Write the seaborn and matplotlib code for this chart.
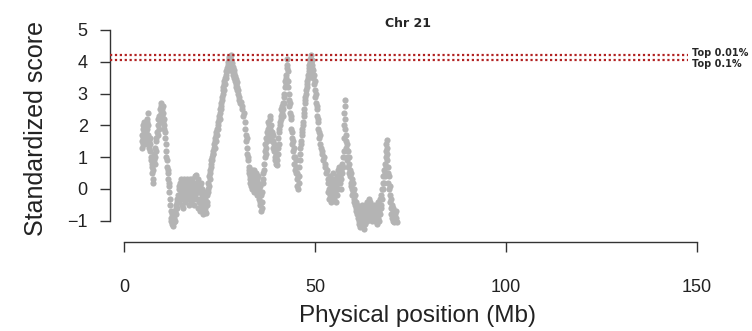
import pandas as pd
import matplotlib
matplotlib.use("Agg")
import matplotlib.pyplot as plt
import seaborn as sns

# ---------------------------------------------------------------------------
# data (Chr 21, standardized score vs position in Mb)
# ---------------------------------------------------------------------------
pos_mb = [
    4.6, 4.7, 4.8, 4.9, 5.0, 5.0, 5.1, 5.2, 5.2, 5.3, 5.4, 5.5, 5.5, 5.6, 5.7, 5.8, 5.9, 6.0, 6.1, 6.2, 6.3, 6.4, 6.5, 6.6, 6.7, 6.8, 6.9, 7.0,
    7.1, 7.2, 7.3, 7.4, 7.5, 7.6, 7.7, 7.8, 7.9, 8.0, 8.1, 8.2, 8.3, 8.4, 8.5,
    8.7, 8.8, 8.9, 9.0, 9.1, 9.2, 9.3, 9.4, 9.5, 9.6, 9.7, 9.8, 9.9, 10.0, 10.1, 10.2, 10.3, 10.4, 10.5, 10.6, 10.7, 10.8, 10.9, 11.0,
    11.1, 11.2, 11.3, 11.4, 11.5, 11.6, 11.7, 11.8, 11.9, 12.0, 12.1,
    12.2, 12.3, 12.4, 12.5, 12.6, 12.7, 12.8, 12.9, 13.0, 13.1, 13.2, 13.3, 13.4, 13.5, 13.6, 13.7, 13.8, 13.9, 14.0,
    14.2, 14.3, 14.4, 14.5, 14.6, 14.7, 14.8, 14.9, 15.0, 15.1, 15.2, 15.3, 15.4, 15.5, 15.6, 15.7, 15.8, 15.9, 16.0, 16.1,
    16.2, 16.3, 16.4, 16.5, 16.6, 16.7, 16.8, 16.9, 17.0, 17.1, 17.2, 17.3, 17.4, 17.5, 17.6, 17.7, 17.8, 17.9, 18.0, 18.1,
    18.2, 18.3, 18.4, 18.5, 18.6, 18.7, 18.8, 18.9, 19.0, 19.1, 19.2, 19.3, 19.4, 19.5, 19.6, 19.7, 19.8, 19.9, 20.0, 20.1,
    20.2, 20.3, 20.4, 20.5, 20.6, 20.7, 20.8, 20.9, 21.0, 21.1, 21.2, 21.3, 21.4, 21.5,
    21.6, 21.7, 21.8, 21.9, 22.0, 22.1, 22.2, 22.3, 22.4, 22.5, 22.6, 22.7, 22.8, 22.9, 23.0, 23.1, 23.2, 23.3, 23.4, 23.5, 23.6, 23.7, 23.8,
    23.9, 24.0, 24.1, 24.2, 24.3, 24.4, 24.5, 24.6, 24.7, 24.8, 24.9, 25.0, 25.1, 25.2, 25.3, 25.4, 25.5, 25.6, 25.7, 25.8, 25.9, 26.0, 26.1, 26.2, 26.3, 26.4,
    26.5, 26.6, 26.7, 26.8, 26.9, 27.0, 27.1, 27.2, 27.3, 27.4, 27.5, 27.6, 27.7, 27.8, 27.9, 28.0, 28.1, 28.2, 28.3, 28.4, 28.5, 28.6, 28.7, 28.8, 28.9,
    29.0, 29.1, 29.2, 29.3, 29.4, 29.5, 29.6, 29.7, 29.8, 29.9, 30.0, 30.2, 30.4, 30.6, 30.8, 31.0, 31.2, 31.4,
    31.6, 31.8, 31.9, 32.0, 32.1, 32.2, 32.3, 32.4, 32.5, 32.6, 32.7, 32.8, 32.9, 33.0, 33.1,
    33.2, 33.3, 33.4, 33.5, 33.6, 33.7, 33.8, 33.9, 34.0, 34.1, 34.2, 34.3, 34.4, 34.5, 34.6, 34.7, 34.8, 34.9, 35.0, 35.1,
    35.2, 35.3, 35.4, 35.5, 35.6, 35.7, 35.8, 35.9, 36.0, 36.1, 36.2, 36.3, 36.4, 36.5, 36.6, 36.7, 36.8, 36.9,
    37.0, 37.1, 37.2, 37.3, 37.4, 37.5, 37.6, 37.7, 37.8, 37.9, 38.0, 38.1, 38.2, 38.3, 38.4, 38.5, 38.6, 38.7, 38.8,
    38.9, 39.0, 39.1, 39.2, 39.3, 39.4, 39.5, 39.6, 39.7, 39.8, 39.9, 40.0, 40.1, 40.2,
    40.3, 40.4, 40.5, 40.6, 40.7, 40.8, 40.9, 41.0, 41.1, 41.2, 41.3, 41.4, 41.5, 41.6, 41.7, 41.8, 41.9,
    42.0, 42.1, 42.2, 42.3, 42.4, 42.5, 42.6, 42.7, 42.75, 42.8, 42.9, 43.0, 43.1,
    43.2, 43.3, 43.4, 43.5, 43.6, 43.7, 43.8, 43.9, 44.0, 44.1, 44.2, 44.3, 44.4, 44.5, 44.6, 44.7, 44.8, 44.9, 45.0, 45.1, 45.2, 45.3, 45.4, 45.5, 45.6, 45.7,
    45.8, 45.9, 46.0, 46.1, 46.2, 46.3, 46.4, 46.5, 46.6, 46.7, 46.8, 46.9, 47.0, 47.1, 47.2, 47.3, 47.4, 47.5, 47.6, 47.7, 47.8, 47.9, 48.0, 48.1, 48.2,
    48.3, 48.4, 48.5, 48.6, 48.7, 48.8, 48.9, 49.0, 49.1, 49.2, 49.3, 49.4, 49.5, 49.6, 49.7, 49.8, 49.9, 50.0,
    50.1, 50.2, 50.3, 50.4, 50.5, 50.6, 50.7, 50.8, 50.9, 51.0, 51.1, 51.2, 51.3, 51.5, 51.7, 51.9, 52.1, 52.3, 52.5, 52.7, 52.9, 53.1,
    53.3, 53.4, 53.5, 53.6, 53.7, 53.8, 53.9, 54.0, 54.1, 54.2, 54.3, 54.4, 54.5, 54.6, 54.7, 54.8, 54.9, 55.0, 55.1, 55.2,
    55.3, 55.4, 55.5, 55.6, 55.7, 55.8, 55.9, 56.0, 56.1, 56.2, 56.3, 56.4, 56.5, 56.6, 56.7, 56.8, 56.9, 57.0, 57.1, 57.2, 57.3,
    57.5, 57.6, 57.65, 57.7, 57.75, 57.8, 57.85, 57.9, 58.0, 58.1, 58.2,
    58.3, 58.4, 58.5, 58.6, 58.7, 58.8, 58.9, 59.0, 59.1, 59.2, 59.3, 59.4, 59.5, 59.6,
    59.7, 59.8, 59.9, 60.0, 60.1, 60.2, 60.3, 60.4, 60.5, 60.6, 60.7, 60.8, 60.9, 61.0, 61.1, 61.2,
    61.3, 61.4, 61.5, 61.6, 61.7, 61.8, 61.9, 62.0, 62.1, 62.2, 62.3, 62.4, 62.5, 62.6, 62.7, 62.8, 62.9, 63.0, 63.1, 63.2,
    63.3, 63.4, 63.5, 63.6, 63.7, 63.8, 63.9, 64.0, 64.1, 64.2, 64.3, 64.4, 64.5, 64.6, 64.7, 64.8, 64.9, 65.0, 65.1, 65.2,
    65.3, 65.4, 65.5,
    65.6, 65.7, 65.8, 65.9, 66.0, 66.1, 66.2, 66.3, 66.4, 66.5, 66.6, 66.7, 66.8, 66.9, 67.0, 67.1, 67.2, 67.3, 67.4, 67.5,
    67.6, 67.7, 67.8, 67.9, 68.0, 68.1, 68.2, 68.3, 68.4, 68.5,
    68.6, 68.65, 68.7, 68.75, 68.8, 68.85, 68.9, 69.0,
    69.1, 69.2, 69.3, 69.4, 69.5, 69.6, 69.7, 69.8, 69.9, 70.0, 70.1, 70.2, 70.3, 70.4, 70.5, 70.6, 70.7, 70.8, 70.9, 71.0,
    71.1, 71.2, 71.3, 71.4,
]
score = [
    1.5, 1.3, 1.7, 1.4, 1.9, 1.6, 2.0, 1.8, 1.5, 2.1, 1.9, 1.7, 1.4, 2.0, 1.8, 1.6, 2.2, 1.9, 2.1, 2.4, 2.0, 1.7, 1.5, 1.3, 1.6, 1.2, 1.4, 1.0,
    0.9, 0.7, 0.5, 0.8, 0.3, 0.6, 0.2, 0.9, 1.1, 0.8, 1.3, 1.0, 1.5, 1.2, 1.6,
    1.8, 2.0, 1.7, 2.2, 1.9, 2.3, 2.1, 2.5, 2.2, 2.6, 2.4, 2.7, 2.5, 2.3, 2.6, 2.1, 2.4, 2.0, 2.2, 1.9, 1.6, 1.8, 1.4, 1.2,
    1.0, 0.7, 0.9, 0.5, 0.3, 0.6, 0.1, 0.2, -0.1, -0.3, -0.5,
    -0.7, -0.9, -1.0, -0.8, -1.1, -0.9, -1.15, -1.0, -0.8, -1.05, -0.9, -0.7, -1.0, -0.6, -0.8, -0.5, -0.6, -0.3, -0.4,
    -0.2, 0.1, -0.4, 0.0, 0.2, -0.3, 0.1, -0.1, 0.3, -0.5, 0.0, 0.2, -0.2, -0.6, 0.1, -0.3, 0.3, 0.0, -0.4, 0.2,
    -0.1, 0.1, -0.3, 0.3, 0.0, -0.2, 0.2, -0.5, 0.1, -0.1, 0.3, -0.3, 0.0, 0.2, -0.4, 0.1, -0.2, 0.3, -0.1, 0.1,
    -0.3, 0.2, -0.5, 0.0, 0.4, -0.2, 0.1, 0.45, -0.3, 0.2, -0.1, -0.6, 0.0, 0.3, -0.4, -0.1, -0.7, 0.1, -0.3, -0.5,
    0.2, -0.2, -0.6, 0.0, -0.4, -0.8, -0.2, -0.5, -0.1, -0.7, -0.3, -0.6, -0.4, -0.75,
    -0.5, -0.2, -0.4, 0.0, -0.1, 0.2, 0.1, 0.4, 0.3, 0.6, 0.5, 0.8, 0.7, 0.9, 1.0, 0.9, 1.1, 1.2, 1.1, 1.3, 1.4, 1.3, 1.5,
    1.6, 1.5, 1.7, 1.8, 1.7, 1.9, 2.0, 1.9, 2.1, 2.2, 2.3, 2.2, 2.4, 2.5, 2.6, 2.5, 2.7, 2.8, 2.9, 3.1, 3.0, 3.2, 3.1, 3.3, 3.4, 3.3,
    3.5, 3.6, 3.5, 3.7, 3.8, 3.7, 3.9, 4.0, 3.8, 4.1, 3.9, 4.15, 4.0, 3.85, 4.2, 3.9, 4.05, 3.8, 3.95, 3.7, 3.85, 3.6, 3.75, 3.5, 3.65,
    3.4, 3.55, 3.3, 3.45, 3.2, 3.35, 3.1, 3.2, 3.0, 3.1, 2.9, 2.8, 2.7, 2.75, 2.5, 2.6, 2.3, 2.4,
    2.1, 1.9, 1.7, 1.5, 1.6, 1.3, 1.1, 0.9, 1.0, 0.7, 0.5, 0.6, 0.3, 0.4, 0.2,
    0.5, 0.1, 0.4, 0.0, 0.6, 0.2, 0.5, -0.1, 0.3, 0.6, 0.1, 0.4, 0.0, 0.5, 0.2, -0.2, 0.3, 0.1, 0.4, -0.1,
    0.2, -0.3, 0.0, -0.4, 0.1, -0.5, -0.2, -0.7, -0.4, -0.6, -0.1, 0.2, 0.5, 0.3, 0.8, 0.6, 1.0, 1.2,
    1.4, 1.1, 1.6, 1.3, 1.8, 1.5, 1.9, 1.7, 2.1, 1.8, 2.0, 2.3, 1.9, 2.2, 1.7, 2.0, 1.6, 1.8, 1.5,
    1.7, 1.3, 1.5, 1.2, 1.4, 1.0, 1.2, 0.9, 1.1, 0.8, 1.0, 0.75, 0.9, 1.1,
    1.3, 1.6, 1.4, 1.8, 1.9, 2.1, 2.0, 2.3, 2.2, 2.5, 2.4, 2.6, 2.3, 2.7, 2.5, 2.9, 2.7,
    3.0, 3.2, 3.4, 3.3, 3.6, 3.5, 3.8, 4.1, 3.9, 3.7, 3.4, 3.2, 3.0,
    2.8, 2.6, 2.7, 2.4, 2.2, 2.3, 1.9, 1.6, 1.8, 1.4, 1.5, 1.2, 1.0, 1.3, 0.8, 1.0, 0.6, 0.9, 0.5, 0.7, 0.3, 0.5, 0.1, 0.4, 0.0, 0.2,
    0.4, 0.7, 0.9, 1.1, 1.3, 1.5, 1.4, 1.7, 1.9, 1.8, 2.1, 2.0, 2.3, 2.5, 2.4, 2.7, 2.9, 2.8, 3.1, 3.0, 3.3, 3.4, 3.2, 3.5, 3.6,
    3.8, 3.7, 3.9, 4.0, 3.85, 4.1, 4.2, 3.95, 4.05, 3.8, 3.9, 3.6, 3.75, 3.5, 3.6, 3.3, 3.4, 3.1,
    2.9, 3.0, 2.7, 2.5, 2.6, 2.3, 2.1, 2.2, 1.9, 1.8, 1.6, 1.7, 1.4, 1.3, 1.1, 1.2, 0.9, 1.0, 0.7, 0.8, 0.5, 0.6,
    0.2, -0.1, 0.3, 0.0, -0.3, 0.2, -0.2, 0.4, 0.1, -0.4, 0.0, 0.3, -0.2, 0.1, -0.1, 0.5, 0.2, -0.3, 0.0, 0.3,
    -0.1, 0.2, -0.4, 0.1, 0.4, -0.2, 0.6, 0.2, 0.0, 0.5, 0.3, 0.7, 0.2, 0.4, 0.0, 0.6, 0.3, 0.8, 0.5, 1.0, 0.7,
    1.2, 1.6, 2.0, 2.4, 2.8, 2.6, 2.2, 1.9, 1.5, 1.7, 1.3,
    1.0, 1.4, 0.9, 1.2, 0.7, 1.0, 0.5, 0.8, 0.4, 0.6, 0.2, 0.5, 0.1, 0.3,
    0.0, -0.2, 0.2, -0.1, -0.4, 0.0, -0.3, -0.5, -0.2, -0.6, -0.4, -0.7, -0.5, -0.8, -0.6, -0.9,
    -0.7, -1.0, -0.8, -1.1, -0.6, -0.9, -1.2, -0.7, -1.0, -0.5, -0.8, -1.1, -0.6, -0.9, -1.25, -0.7, -1.0, -0.8, -1.1, -0.5,
    -0.9, -0.6, -1.0, -0.7, -0.4, -0.8, -0.5, -0.9, -0.3, -0.6, -0.4, -0.8, -0.5, -0.7, -0.9, -0.6, -1.0, -0.8, -0.6, -0.9,
    -0.7, -0.5, -0.8,
    -0.9, -0.6, -1.0, -0.7, -0.9, -0.5, -0.8, -1.1, -0.6, -0.9, -0.4, -0.7, -1.0, -0.5, -0.8, -0.3, -0.6, -0.2, -0.5, 0.0,
    -0.3, 0.2, 0.0, 0.4, 0.2, 0.6, 0.4, 0.8, 0.5, 0.7,
    1.0, 1.2, 1.4, 1.55, 1.3, 1.1, 0.9, 0.7,
    0.5, 0.2, 0.4, 0.0, -0.2, 0.1, -0.4, -0.6, -0.3, -0.8, -0.5, -0.9, -0.7, -1.0, -0.6, -0.85, -1.05, -0.75, -0.95, -0.8,
    -1.0, -0.7, -0.9, -1.05,
]
assert len(pos_mb) == len(score), (len(pos_mb), len(score))

threshold_values = [4.2, 4.06]
threshold_labels = ["Top 0.01%", "Top 0.1%"]
x_ticks = [0, 50, 100, 150]
y_ticks = [-1, 0, 1, 2, 3, 4, 5]

df = pd.DataFrame({"pos": pos_mb, "score": score})

# ---------------------------------------------------------------------------
# plot (base-R look: detached axes, no box)
# ---------------------------------------------------------------------------
sns.set_style("ticks")
plt.rcParams['font.family'] = ['Liberation Sans', 'DejaVu Sans']

fig = plt.figure(figsize=(7.52, 3.31), dpi=100)
ax = fig.add_axes([0.1463, 0.2897, 0.7806, 0.6437])

sns.scatterplot(data=df, x="pos", y="score", ax=ax, color="#b4b4b4",
                s=20, linewidth=0, alpha=1.0, zorder=2)

for val in threshold_values:
    ax.hlines(val, -3.66, 147.6, colors="#b22222", linestyles=(0, (1, 1.2)),
              linewidth=1.6, zorder=3)

ax.text(148.8, threshold_values[0] + 0.09, threshold_labels[0], fontsize=7,
        fontweight='bold', family='DejaVu Sans', va='center', ha='left')
ax.text(148.8, threshold_values[1] - 0.12, threshold_labels[1], fontsize=7,
        fontweight='bold', family='DejaVu Sans', va='center', ha='left')

ax.set_xlim(-3.66, 150)
ax.set_ylim(-1.45, 5.25)
ax.set_xticks(x_ticks)
ax.set_yticks(y_ticks)

sns.despine(ax=ax)
ax.spines['left'].set_bounds(-1, 5)
ax.spines['bottom'].set_bounds(0, 150)
ax.spines['bottom'].set_position(('outward', 4.8))
for sp in ['left', 'bottom']:
    ax.spines[sp].set_color('#333333')
    ax.spines[sp].set_linewidth(1.0)

ax.tick_params(axis='both', length=7, width=1.0, color='#333333',
               labelsize=13, labelcolor='#222222')
ax.tick_params(axis='x', pad=20)
ax.tick_params(axis='y', pad=9)

ax.set_xlabel('Physical position (Mb)', fontsize=17.5, color='#222222')
ax.xaxis.set_label_coords(0.523, -0.33)
ax.xaxis.label.set_va('top')
ax.set_ylabel('Standardized score', fontsize=18, color='#222222', labelpad=14)
ax.set_title('Chr 21', fontsize=9, fontweight='bold', family='DejaVu Sans',
             x=0.507, y=0.975, va='baseline', pad=0)

plt.savefig('out.png', dpi=100)
plt.close()
